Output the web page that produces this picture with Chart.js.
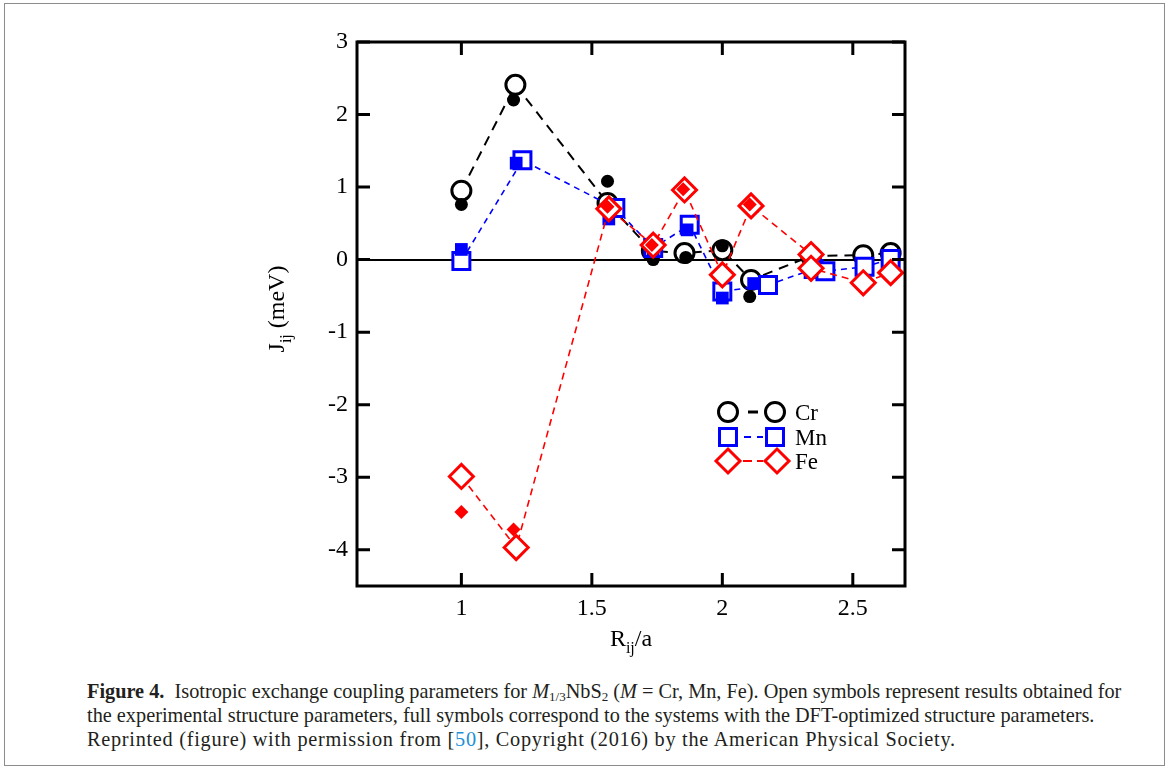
<!DOCTYPE html>
<html><head><meta charset="utf-8">
<script src="https://cdn.jsdelivr.net/npm/chart.js@4/dist/chart.umd.min.js"></script>
<style>
html,body{margin:0;padding:0;background:#fff;}
#wrap{position:relative;width:1174px;height:778px;overflow:hidden;background:#fff;}
#frame{position:absolute;left:4px;top:3px;width:1161px;height:763px;border:1.5px solid #8c8c8c;box-sizing:border-box;}
#cbox{position:absolute;left:0;top:0;width:1174px;height:660px;}
#caption{position:absolute;left:87px;top:679px;font-family:"Liberation Serif",serif;font-size:20.3px;line-height:24px;white-space:nowrap;color:#231f20;}
#caption sub{font-size:13px;vertical-align:-3px;line-height:0;}
#caption .ref{color:#1f8fd4;}
#caption .l3{letter-spacing:0.72px;}
</style></head>
<body>
<div id="wrap">
  <div id="frame"></div>
  <div id="cbox"><canvas id="c"></canvas></div>
  <div id="caption">
    <b>Figure 4.</b>&nbsp;&nbsp;Isotropic exchange coupling parameters for <i>M</i><sub>1/3</sub>NbS<sub>2</sub> (<i>M</i> = Cr, Mn, Fe). Open symbols represent results obtained for<br>
    the experimental structure parameters, full symbols correspond to the systems with the DFT-optimized structure parameters.<br>
    <span class="l3">Reprinted (figure) with permission from [<span class="ref">50</span>], Copyright (2016) by the American Physical Society.</span>
  </div>
</div>
<script>
// ---- data (R_ij/a, J_ij in meV) ----
const crOpenR = [1.0, 1.207, 1.56, 1.73, 1.855, 2.0, 2.11, 2.34, 2.54, 2.645];
const crOpenJ = [0.95, 2.41, 0.78, 0.12, 0.09, 0.13, -0.28, 0.05, 0.06, 0.09];
const crFullR = [1.0, 1.2, 1.56, 1.735, 1.86, 2.0, 2.105];
const crFullJ = [0.76, 2.2, 1.08, 0.0, 0.03, 0.19, -0.51];
const mnOpenR = [1.0, 1.234, 1.59, 1.735, 1.875, 2.0, 2.175, 2.35, 2.395, 2.545, 2.645];
const mnOpenJ = [-0.02, 1.37, 0.71, 0.16, 0.48, -0.44, -0.35, -0.13, -0.16, -0.1, 0.01];
const mnFullR = [1.0, 1.21, 1.565, 1.735, 1.865, 2.0, 2.12];
const mnFullJ = [0.14, 1.33, 0.56, 0.15, 0.41, -0.53, -0.33];
const feOpenR = [1.0, 1.21, 1.565, 1.735, 1.855, 2.0, 2.11, 2.34, 2.34, 2.54, 2.645];
const feOpenJ = [-2.99, -3.97, 0.70, 0.20, 0.96, -0.21, 0.74, 0.07, -0.12, -0.32, -0.18];
const feFullR = [1.0, 1.2, 1.56, 1.73, 1.85, 2.105];
const feFullJ = [-3.48, -3.72, 0.73, 0.2, 0.97, 0.76];
const xTicks = [1, 1.5, 2, 2.5];
const yTicks = [-4, -3, -2, -1, 0, 1, 2, 3];
const legendNames = ['Cr', 'Mn', 'Fe'];

const pts = (xs, ys) => xs.map((v, i) => ({x: v, y: ys[i]}));
const FONT = '"Liberation Serif", "Times New Roman", serif';

function drawMarker(ctx, type, x, y, r, fill, stroke, lw) {
  ctx.beginPath();
  if (type === 'circle') ctx.arc(x, y, r, 0, Math.PI * 2);
  else if (type === 'rect') { const s = r * Math.SQRT1_2; ctx.rect(x - s, y - s, 2 * s, 2 * s); }
  else { ctx.moveTo(x, y - r); ctx.lineTo(x + r, y); ctx.lineTo(x, y + r); ctx.lineTo(x - r, y); ctx.closePath(); }
  if (fill) { ctx.fillStyle = fill; ctx.fill(); }
  if (stroke) { ctx.strokeStyle = stroke; ctx.lineWidth = lw; ctx.stroke(); }
}

const framePlugin = {
  id: 'frame',
  afterDatasetsDraw(chart) {
    const {ctx, chartArea: a, scales: {x, y}} = chart;
    ctx.save();
    ctx.strokeStyle = '#000';
    ctx.lineWidth = 3;
    ctx.lineCap = 'butt';
    ctx.beginPath();
    const L = 13;
    x.ticks.forEach(t => { const p = x.getPixelForValue(t.value);
      ctx.moveTo(p, a.bottom); ctx.lineTo(p, a.bottom - L);
      ctx.moveTo(p, a.top); ctx.lineTo(p, a.top + L); });
    y.ticks.forEach(t => { const p = y.getPixelForValue(t.value);
      ctx.moveTo(a.left, p); ctx.lineTo(a.left + L, p);
      ctx.moveTo(a.right, p); ctx.lineTo(a.right - L, p); });
    ctx.stroke();
    ctx.strokeRect(a.left, a.top, a.right - a.left, a.bottom - a.top);
    ctx.restore();
  },
  afterDraw(chart) {
    const {ctx, chartArea: a} = chart;
    ctx.save();
    ctx.fillStyle = '#000';
    ctx.textBaseline = 'alphabetic';
    // x title: R_ij/a
    const big = '24px ' + FONT, small = '16px ' + FONT;
    ctx.font = big; const wR = ctx.measureText('R').width, wA = ctx.measureText('/a').width;
    ctx.font = small; const wS = ctx.measureText('ij').width;
    let cx = (a.left + a.right) / 2 - (wR + wS + wA) / 2, by = 646;
    ctx.font = big; ctx.textAlign = 'left'; ctx.fillText('R', cx, by);
    ctx.font = small; ctx.fillText('ij', cx + wR, by + 7);
    ctx.font = big; ctx.fillText('/a', cx + wR + wS, by);
    // y title: J_ij (meV)
    ctx.font = big; const wJ = ctx.measureText('J').width, wM = ctx.measureText(' (meV)').width;
    ctx.save();
    ctx.translate(284, 309);
    ctx.rotate(-Math.PI / 2);
    let sx = -(wJ + wS + wM) / 2;
    ctx.font = big; ctx.fillText('J', sx, 0);
    ctx.font = small; ctx.fillText('ij', sx + wJ, 7);
    ctx.font = big; ctx.fillText(' (meV)', sx + wJ + wS, 0);
    ctx.restore();
    // legend
    const rows = [
      {y: 412, type: 'circle', r: 9.5, col: '#000', dashes: [[748, 758]], x2: 775},
      {y: 437, type: 'rect', r: 12, col: '#0000ff', dashes: [[744, 751], [757, 763]], x2: 775},
      {y: 461, type: 'diamond', r: 12, col: '#ff0000', dashes: [[743, 752], [757, 763]], x2: 777}
    ];
    rows.forEach((row, i) => {
      ctx.strokeStyle = row.col; ctx.lineWidth = i === 0 ? 3 : 2;
      ctx.beginPath();
      row.dashes.forEach(d => { ctx.moveTo(d[0], row.y); ctx.lineTo(d[1], row.y); });
      ctx.stroke();
      drawMarker(ctx, row.type, 728, row.y, row.r, '#fff', row.col, 3);
      drawMarker(ctx, row.type, row.x2, row.y, row.r, '#fff', row.col, 3);
      ctx.fillStyle = '#000'; ctx.font = '23px ' + FONT; ctx.textAlign = 'left';
      ctx.fillText(legendNames[i], 795, row.y + 8);
    });
    ctx.restore();
  }
};

const openDs = (label, xs, ys, col, style, r, dash, bw, order) => ({
  label, data: pts(xs, ys), showLine: true, borderColor: col, borderWidth: bw, borderDash: dash,
  pointStyle: style, pointRadius: r, pointBorderWidth: 3, pointBorderColor: col,
  pointBackgroundColor: '#fff', order
});
const fullDs = (label, xs, ys, col, style, r, order) => ({
  label, data: pts(xs, ys), showLine: false, pointStyle: style, pointRadius: r,
  pointBorderWidth: 0, pointBackgroundColor: col, pointBorderColor: col, order
});

new Chart(document.getElementById('c'), {
  type: 'scatter',
  data: {
    datasets: [
      openDs('Cr', crOpenR, crOpenJ, '#000', 'circle', 9.5, [10, 7], 2, 6),
      fullDs('Cr opt', crFullR, crFullJ, '#000', 'circle', 6.5, 5),
      openDs('Mn', mnOpenR, mnOpenJ, '#0000ff', 'rect', 12, [6, 5], 1.6, 4),
      fullDs('Mn opt', mnFullR, mnFullJ, '#0000ff', 'rect', 9, 3),
      openDs('Fe', feOpenR, feOpenJ, '#ff0000', 'rectRot', 12, [7, 5], 1.6, 2),
      fullDs('Fe opt', feFullR, feFullJ, '#ff0000', 'rectRot', 7, 1)
    ]
  },
  options: {
    responsive: true, maintainAspectRatio: false, animation: false, devicePixelRatio: 1,
    events: [],
    layout: {padding: {left: 297, top: 42, right: 269, bottom: 24}},
    plugins: {legend: {display: false}, tooltip: {enabled: false}},
    scales: {
      x: {
        type: 'linear', min: 0.6, max: 2.7,
        afterBuildTicks: s => { s.ticks = xTicks.map(v => ({value: v})); },
        afterFit: s => { s.height = 50; },
        grid: {display: false, drawTicks: false},
        border: {display: false},
        ticks: {font: {family: FONT, size: 24}, color: '#000', padding: 8, maxRotation: 0,
                callback: v => String(v)}
      },
      y: {
        type: 'linear', min: -4.5, max: 3,
        afterBuildTicks: s => { s.ticks = yTicks.map(v => ({value: v})); },
        afterFit: s => { s.width = 60; },
        grid: {drawTicks: false, lineWidth: 2, color: c => (c.tick && c.tick.value === 0) ? '#000' : 'rgba(0,0,0,0)'},
        border: {display: false},
        ticks: {font: {family: FONT, size: 24}, color: '#000', padding: 9, callback: v => String(v)}
      }
    }
  },
  plugins: [framePlugin]
});
</script>
</body></html>
